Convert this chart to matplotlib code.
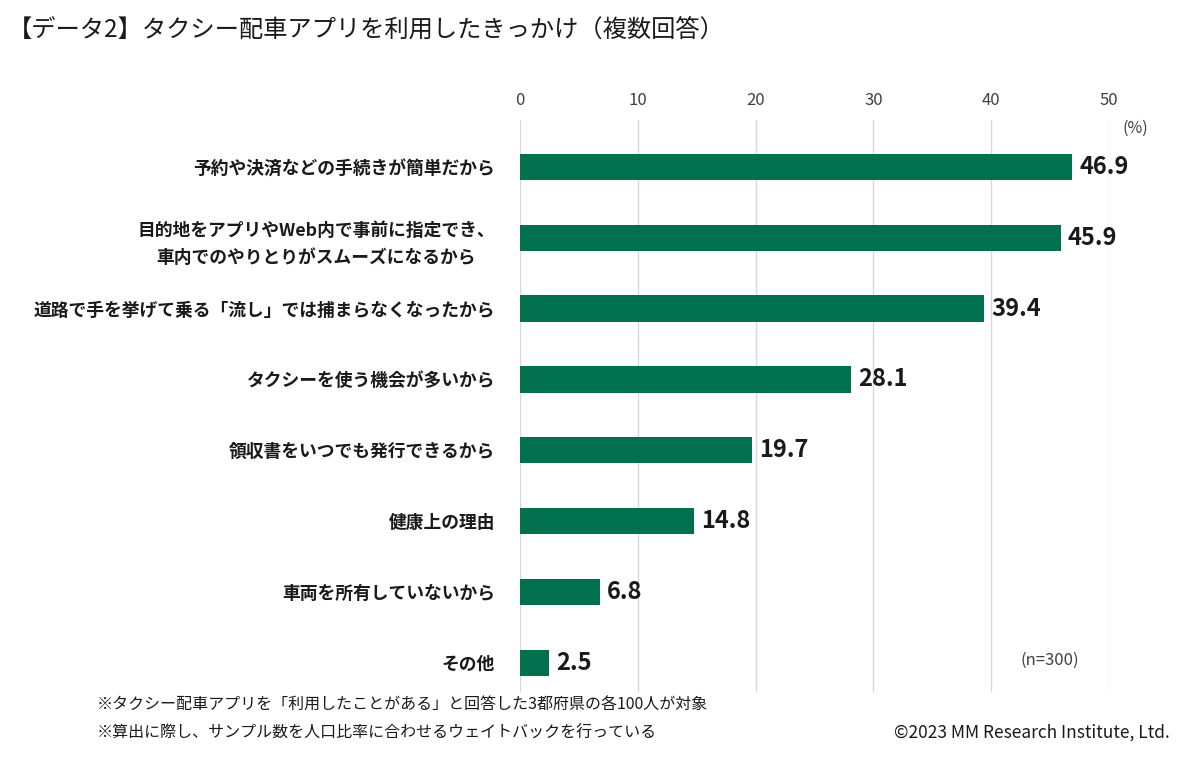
import matplotlib
matplotlib.use('Agg')
import matplotlib.pyplot as plt

plt.rcParams['font.family'] = ['Noto Sans CJK JP', 'DejaVu Sans']

# データ
categories = [
    '予約や決済などの手続きが簡単だから',
    '目的地をアプリやWeb内で事前に指定でき、\n車内でのやりとりがスムーズになるから',
    '道路で手を挙げて乗る「流し」では捕まらなくなったから',
    'タクシーを使う機会が多いから',
    '領収書をいつでも発行できるから',
    '健康上の理由',
    '車両を所有していないから',
    'その他',
]
values = [46.9, 45.9, 39.4, 28.1, 19.7, 14.8, 6.8, 2.5]
x_ticks = [0, 10, 20, 30, 40, 50]

title = '【データ2】タクシー配車アプリを利用したきっかけ（複数回答）'
notes = ['※タクシー配車アプリを「利用したことがある」と回答した3都府県の各100人が対象',
         '※算出に際し、サンプル数を人口比率に合わせるウェイトバックを行っている']
credit = '©2023 MM Research Institute, Ltd.'

bar_color = '#00704F'

fig = plt.figure(figsize=(12, 7.66), dpi=100)
ax = fig.add_axes([520/1200, 1-692/766, 589/1200, 572/766])

ypos = list(range(len(categories)))
ax.barh(ypos, values, height=0.37, color=bar_color, zorder=3)

for y, v in zip(ypos, values):
    ax.text(v + 0.6, y, f'{v:.1f}', va='center', ha='left',
            fontsize=17, fontweight='bold', color='#1a1a1a')

ax.set_xlim(0, 50)
ax.set_ylim(7.41, -0.66)
ax.set_xticks(x_ticks)
ax.xaxis.tick_top()
ax.tick_params(axis='x', length=0, pad=8, labelsize=12, labelcolor='#404040')
ax.set_yticks(ypos)
ax.set_yticklabels(categories)
ax.tick_params(axis='y', length=0, pad=18, labelsize=12.8)
for lab in ax.get_yticklabels():
    lab.set_fontweight('bold')
    lab.set_multialignment('center')
    lab.set_linespacing(1.7)
    lab.set_color('#1a1a1a')

ax.grid(axis='x', color='#d9d9d9', linewidth=1, zorder=0)
for s in ax.spines.values():
    s.set_visible(False)

fig.text(1135/1200, 1-128/766, '(%)', fontsize=11.5, color='#404040', ha='center', va='center')
fig.text(1050/1200, 1-660/766, '(n=300)', fontsize=12, color='#404040', ha='center', va='center')

fig.text(8/1200, 1-30/766, title, fontsize=17.5, ha='left', va='center', color='#1a1a1a')
fig.text(97/1200, 1-705/766, notes[0], fontsize=11.5, ha='left', va='center', color='#1a1a1a')
fig.text(97/1200, 1-733/766, notes[1], fontsize=11.5, ha='left', va='center', color='#1a1a1a')
fig.text(1170/1200, 1-733/766, credit, fontsize=12.5, ha='right', va='center', color='#1a1a1a')

fig.savefig('out.png', dpi=100, facecolor='white')
